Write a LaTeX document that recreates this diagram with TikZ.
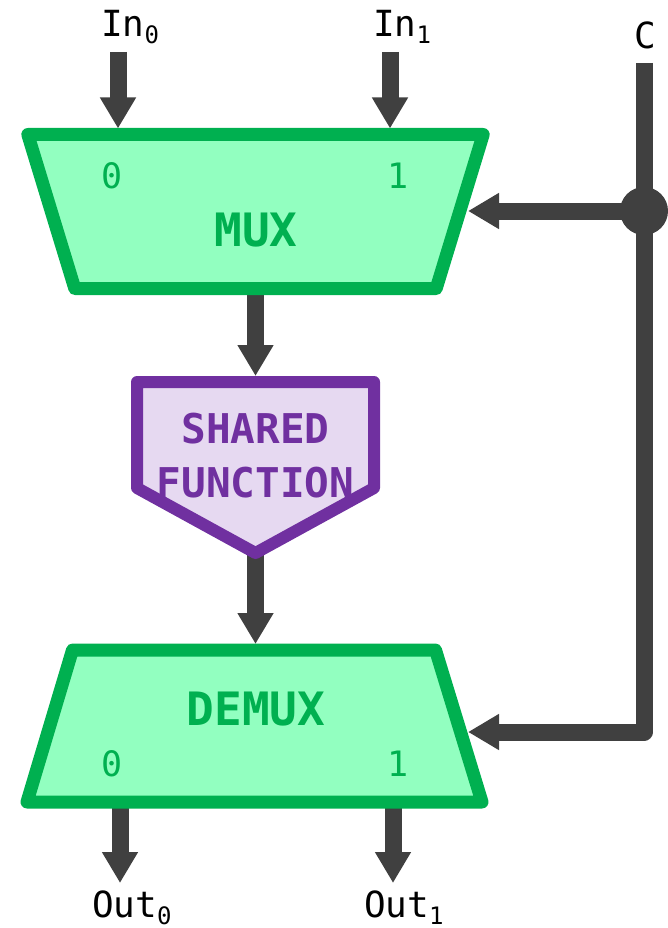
\documentclass[tikz,border=0pt]{standalone}
\usepackage{fontspec}
\newfontfamily\mono{DejaVu Sans Mono}
\usetikzlibrary{arrows.meta}
\definecolor{wirec}{HTML}{404040}
\definecolor{gline}{HTML}{00B050}
\definecolor{gfill}{HTML}{92FFC0}
\definecolor{pline}{HTML}{7030A0}
\definecolor{pfill}{HTML}{E6D9F1}
% lowered index digit for signal names
\newcommand\lowidx[1]{\raisebox{-7pt}[\height][0pt]{\fontsize{24pt}{24pt}\selectfont #1}}

\begin{document}
\begin{tikzpicture}[x=1pt,y=-1pt,
  wire/.style={draw=wirec,line width=17pt},
  arr/.style={wire,-{Triangle[width=34pt,length=31pt]}},
  muxbox/.style={draw=gline,fill=gfill,line width=13pt,line join=round},
  fnbox/.style={draw=pline,fill=pfill,line width=12pt,line join=round},
  sig/.style={font=\mono\fontsize{36pt}{36pt}\selectfont,inner sep=0pt,text=black},
  port/.style={font=\mono\fontsize{35pt}{35pt}\selectfont,inner sep=0pt,text=gline,anchor=base},
  title/.style={font=\mono\bfseries\fontsize{46pt}{46pt}\selectfont,inner sep=0pt,anchor=base},
  ftitle/.style={font=\mono\bfseries\fontsize{41pt}{41pt}\selectfont,inner sep=0pt,anchor=base,text=pline},
]
\useasboundingbox (0,0) rectangle (668,928);

% signal names
\node[sig,anchor=base west] (in0) at (101,37) {In\lowidx{0}};
\node[sig,anchor=base west] (in1) at (373,37) {In\lowidx{1}};
\node[sig,anchor=base] (ctl) at (645,49) {C};
\node[sig,anchor=base west] (out0) at (92,917) {Out\lowidx{0}};
\node[sig,anchor=base west] (out1) at (364,917) {Out\lowidx{1}};

% connector end points
\coordinate (in0s) at (118,52);   \coordinate (in0e) at (118,128.5);
\coordinate (in1s) at (390,52);   \coordinate (in1e) at (390,128.5);
\coordinate (muxo) at (255.5,288); \coordinate (fni) at (255.5,376);
\coordinate (fno) at (255.5,552);  \coordinate (dmxi) at (255.5,644);
\coordinate (ctop) at (644,63);    \coordinate (tap) at (644,211);
\coordinate (cbend) at (644,732);
\coordinate (muxc) at (468,211);   \coordinate (dmxc) at (468,732);
\coordinate (o0s) at (120,802);    \coordinate (o0e) at (120,883);
\coordinate (o1s) at (393,802);    \coordinate (o1e) at (393,883);

% wires
\draw[arr] (in0s) -- (in0e);
\draw[arr] (in1s) -- (in1e);
\draw[arr] (muxo) -- (fni);
\draw[arr] (fno) -- (dmxi);
\draw[wire,line join=round,-{Triangle[width=34pt,length=31pt]}] (ctop) -- (cbend) -- (dmxc);
\draw[arr] (tap) -- (muxc);
\fill[wirec] (tap) circle (24);
\draw[arr] (o0s) -- (o0e);
\draw[arr] (o1s) -- (o1e);

% multiplexer
\draw[muxbox] (27.8,134.5) -- (483.2,134.5) -- (436.2,288.5) -- (74.8,288.5) -- cycle;
\node[port] (m0) at (112,188.5) {0};
\node[port] (m1) at (398,188.5) {1};
\node[title,text=gline] (mux) at (256,246.5) {MUX};

% shared function block
\draw[fnbox] (137,382) -- (374,382) -- (374,488) -- (255.5,553) -- (137,488) -- cycle;
\node[ftitle] (fn1) at (255.5,443) {SHARED};
\node[ftitle] (fn2) at (255.5,497) {FUNCTION};

% demultiplexer
\draw[muxbox] (72.5,650) -- (435.5,650) -- (482,802) -- (27,802) -- cycle;
\node[title,text=gline] (dmx) at (256,725) {DEMUX};
\node[port] (d0) at (112,776) {0};
\node[port] (d1) at (398,776) {1};
\end{tikzpicture}
\end{document}
